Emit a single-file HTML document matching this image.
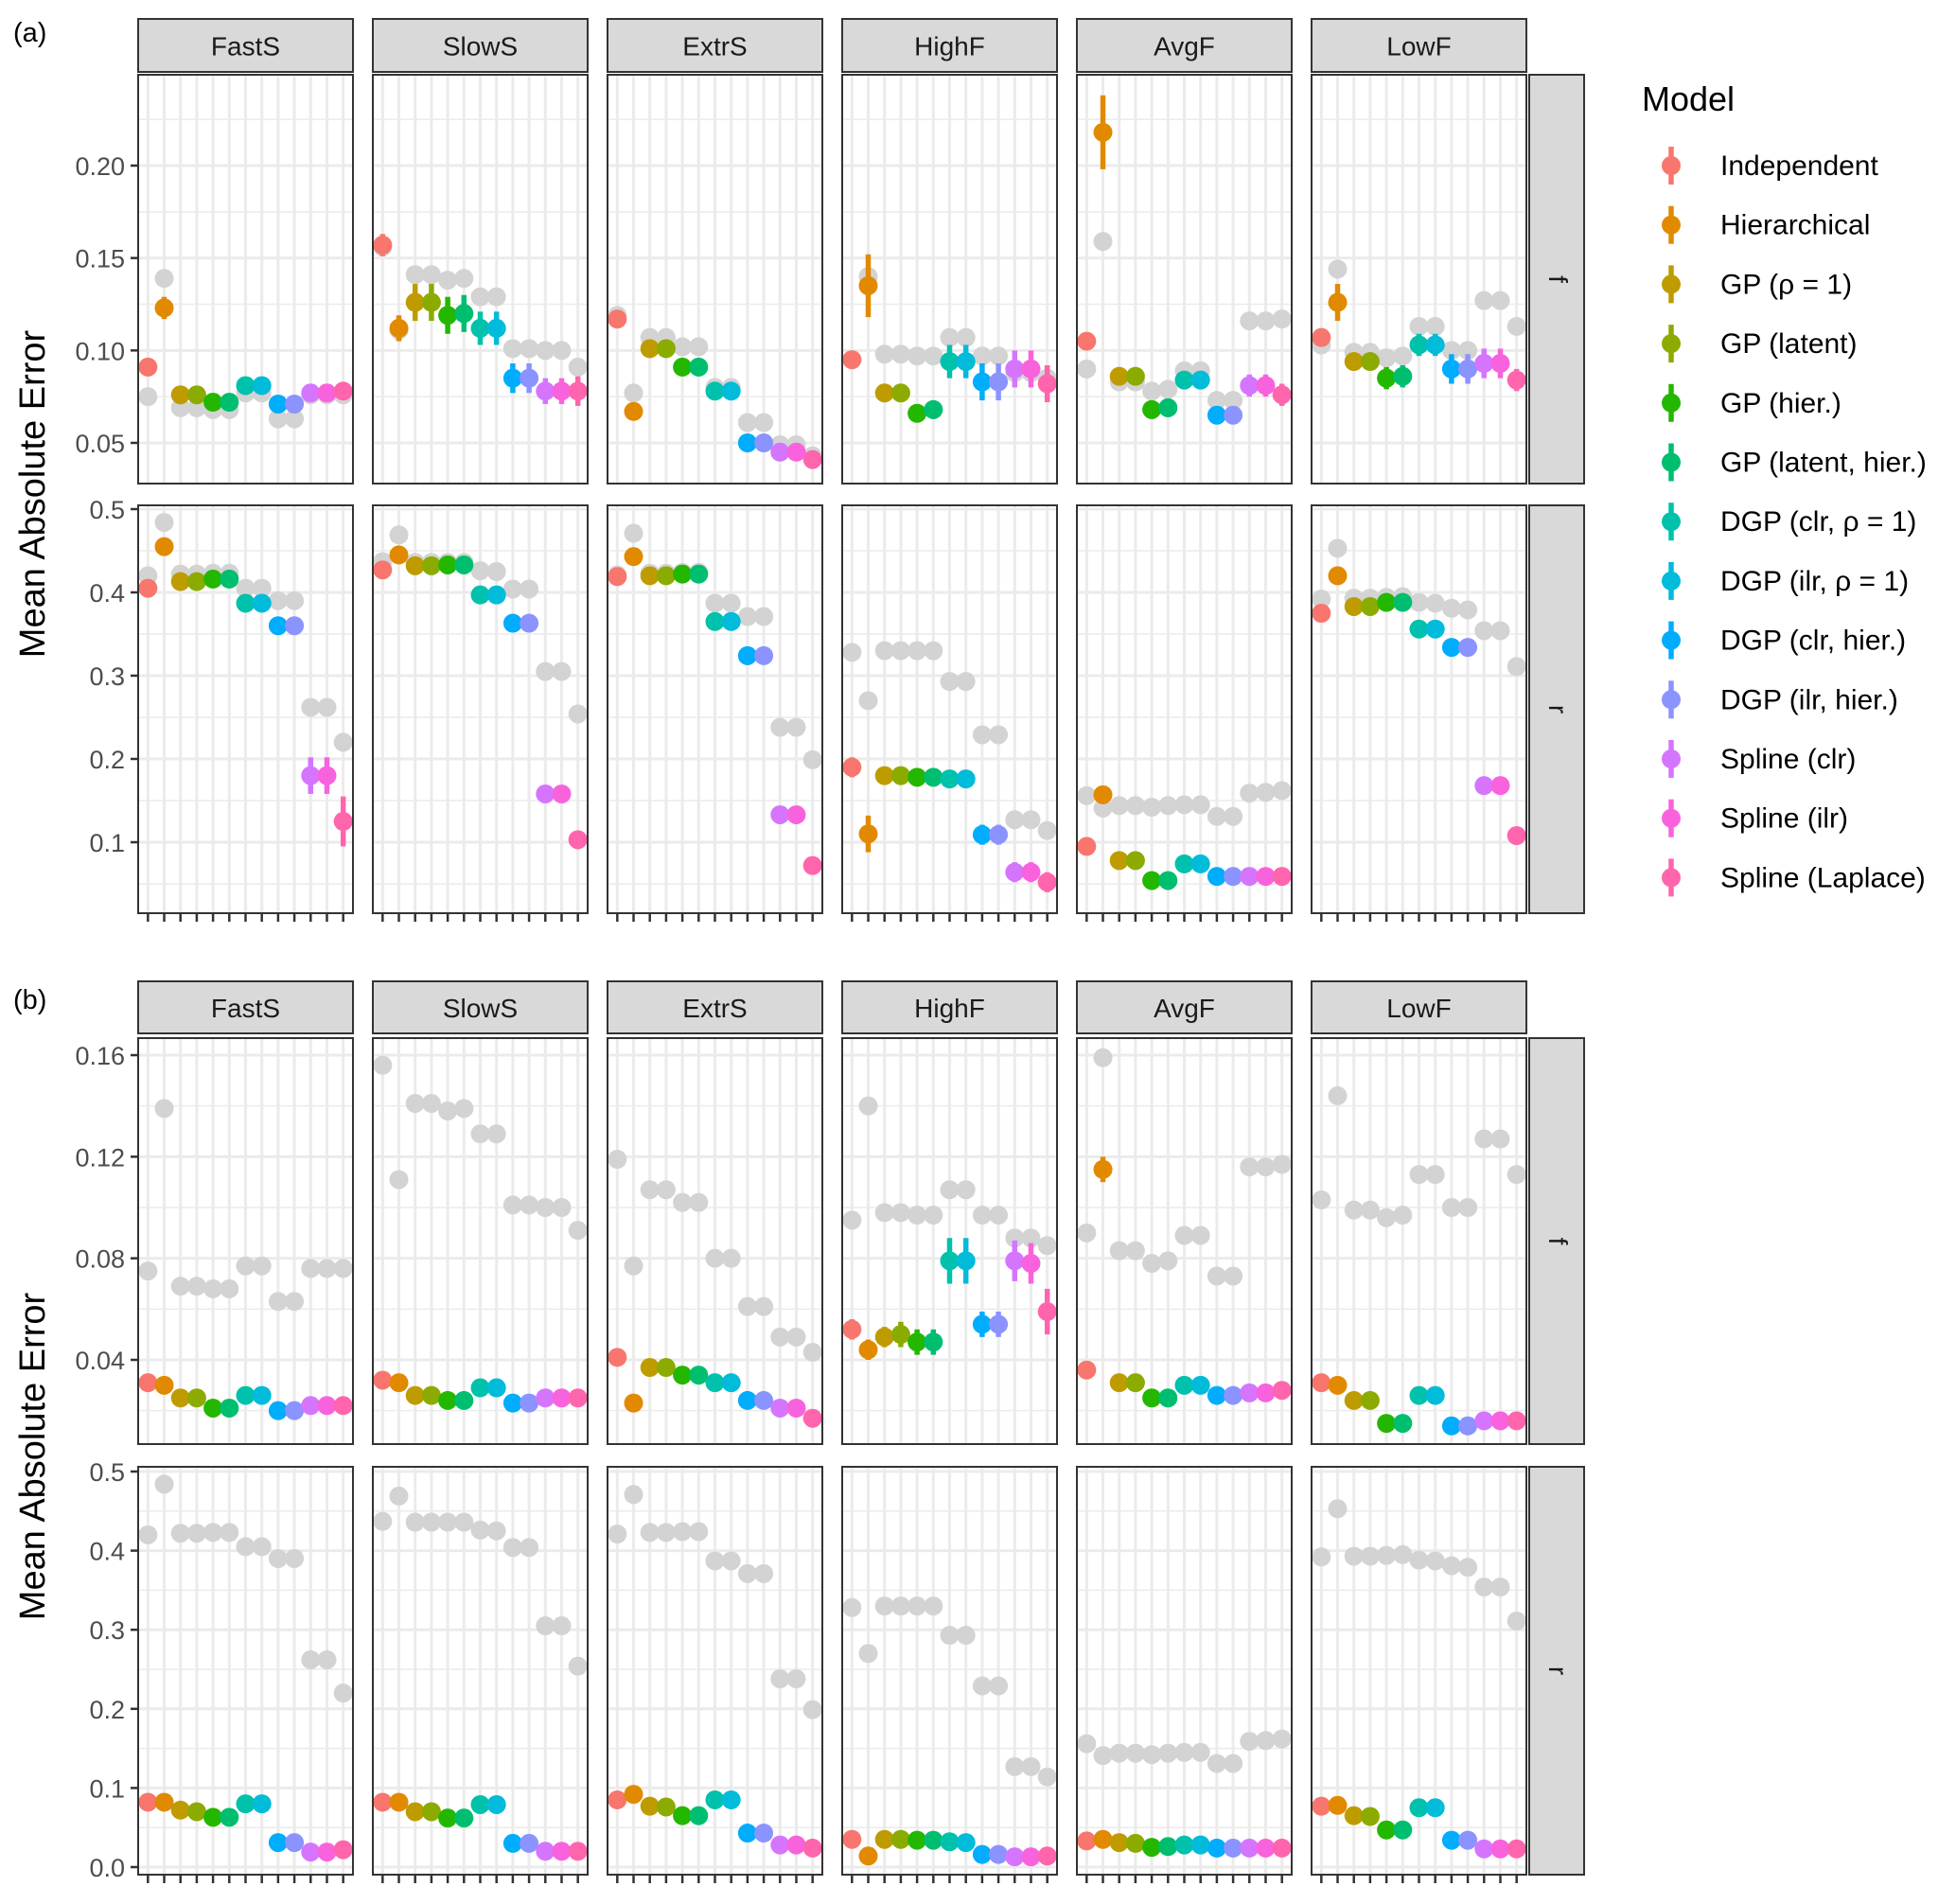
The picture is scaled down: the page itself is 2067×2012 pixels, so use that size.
<!DOCTYPE html>
<html><head><meta charset="utf-8">
<style>
html,body{margin:0;padding:0;background:#fff;}
svg{display:block;font-family:"Liberation Sans",Arial,sans-serif;}
</style></head>
<body>
<svg id="chart" width="2067" height="2012" viewBox="0 0 2067 2012" xmlns="http://www.w3.org/2000/svg">
<rect x="0" y="0" width="2067" height="2012" fill="#fff"/>
<g id="plot"></g>
<text x="14" y="44" font-size="29" fill="#000">(a)</text>
<text x="14" y="1066" font-size="29" fill="#000">(b)</text>
<text transform="translate(47,522) rotate(-90)" text-anchor="middle" font-size="38" fill="#000">Mean Absolute Error</text>
<text transform="translate(47,1539) rotate(-90)" text-anchor="middle" font-size="38" fill="#000">Mean Absolute Error</text>
<g id="legend"></g>
</svg>
<script>
const categories = ["FastS","SlowS","ExtrS","HighF","AvgF","LowF"];
const models = ["Independent","Hierarchical","GP (ρ = 1)","GP (latent)","GP (hier.)","GP (latent, hier.)","DGP (clr, ρ = 1)","DGP (ilr, ρ = 1)","DGP (clr, hier.)","DGP (ilr, hier.)","Spline (clr)","Spline (ilr)","Spline (Laplace)"];
const colors = ["#F8766D","#E18A00","#BE9C00","#8CAB00","#24B700","#00BE70","#00C1AB","#00BBDA","#00ACFC","#8B93FF","#D575FE","#F962DD","#FF65AC"];

const grayF = [
 [0.075,0.139,0.069,0.069,0.068,0.068,0.077,0.077,0.063,0.063,0.076,0.076,0.076],
 [0.156,0.111,0.141,0.141,0.138,0.139,0.129,0.129,0.101,0.101,0.100,0.100,0.091],
 [0.119,0.077,0.107,0.107,0.102,0.102,0.080,0.080,0.061,0.061,0.049,0.049,0.043],
 [0.095,0.140,0.098,0.098,0.097,0.097,0.107,0.107,0.097,0.097,0.088,0.088,0.085],
 [0.090,0.159,0.083,0.083,0.078,0.079,0.089,0.089,0.073,0.073,0.116,0.116,0.117],
 [0.103,0.144,0.099,0.099,0.096,0.097,0.113,0.113,0.100,0.100,0.127,0.127,0.113]
];
const grayR = [
 [0.420,0.484,0.422,0.422,0.423,0.423,0.405,0.405,0.390,0.390,0.262,0.262,0.220],
 [0.437,0.469,0.436,0.436,0.436,0.436,0.426,0.425,0.404,0.404,0.305,0.305,0.254],
 [0.421,0.471,0.423,0.423,0.424,0.424,0.387,0.387,0.371,0.371,0.238,0.238,0.199],
 [0.328,0.270,0.330,0.330,0.330,0.330,0.293,0.293,0.229,0.229,0.127,0.127,0.114],
 [0.156,0.141,0.144,0.144,0.142,0.144,0.145,0.145,0.131,0.131,0.159,0.160,0.162],
 [0.392,0.453,0.393,0.393,0.394,0.395,0.388,0.387,0.381,0.379,0.354,0.354,0.311]
];
const aF = [
 [0.091,0.123,0.076,0.076,0.072,0.072,0.081,0.081,0.071,0.071,0.077,0.077,0.078],
 [0.157,0.112,0.126,0.126,0.119,0.120,0.112,0.112,0.085,0.085,0.078,0.078,0.078],
 [0.117,0.067,0.101,0.101,0.091,0.091,0.078,0.078,0.050,0.050,0.045,0.045,0.041],
 [0.095,0.135,0.077,0.077,0.066,0.068,0.094,0.094,0.083,0.083,0.090,0.090,0.082],
 [0.105,0.218,0.086,0.086,0.068,0.069,0.084,0.084,0.065,0.065,0.081,0.081,0.076],
 [0.107,0.126,0.094,0.094,0.085,0.086,0.103,0.103,0.090,0.090,0.093,0.093,0.084]
];
const aFerr = [
 [0.003,0.006,0.003,0.003,0.003,0.003,0.003,0.003,0.003,0.003,0.003,0.003,0.004],
 [0.006,0.007,0.010,0.010,0.010,0.010,0.009,0.009,0.008,0.008,0.007,0.007,0.008],
 [0.002,0.003,0.002,0.002,0.002,0.002,0.002,0.002,0.002,0.002,0.002,0.002,0.002],
 [0.002,0.017,0.004,0.004,0.005,0.005,0.009,0.009,0.010,0.010,0.010,0.010,0.010],
 [0.002,0.020,0.003,0.003,0.005,0.005,0.004,0.004,0.004,0.004,0.006,0.006,0.006],
 [0.003,0.010,0.004,0.004,0.006,0.006,0.006,0.006,0.008,0.008,0.008,0.008,0.006]
];
const aR = [
 [0.405,0.455,0.413,0.413,0.416,0.416,0.387,0.387,0.360,0.360,0.180,0.180,0.125],
 [0.427,0.445,0.432,0.432,0.433,0.433,0.397,0.397,0.363,0.363,0.158,0.158,0.103],
 [0.419,0.443,0.420,0.420,0.422,0.422,0.365,0.365,0.324,0.324,0.133,0.133,0.072],
 [0.190,0.110,0.180,0.180,0.178,0.178,0.176,0.176,0.109,0.109,0.064,0.064,0.052],
 [0.095,0.157,0.078,0.078,0.054,0.054,0.074,0.074,0.059,0.059,0.059,0.059,0.059],
 [0.375,0.420,0.383,0.383,0.388,0.388,0.356,0.356,0.334,0.334,0.168,0.168,0.108]
];
const aRerr = [
 [0.005,0.008,0.005,0.005,0.005,0.005,0.005,0.005,0.005,0.005,0.022,0.022,0.030],
 [0.005,0.006,0.004,0.004,0.004,0.004,0.005,0.005,0.005,0.005,0.005,0.005,0.006],
 [0.004,0.006,0.004,0.004,0.004,0.004,0.005,0.005,0.005,0.005,0.005,0.005,0.010],
 [0.012,0.022,0.010,0.010,0.010,0.010,0.010,0.010,0.012,0.012,0.012,0.012,0.012],
 [0.005,0.006,0.004,0.004,0.004,0.004,0.004,0.004,0.004,0.004,0.004,0.004,0.004],
 [0.005,0.006,0.004,0.004,0.004,0.004,0.005,0.005,0.005,0.005,0.005,0.005,0.005]
];
const bF = [
 [0.031,0.030,0.025,0.025,0.021,0.021,0.026,0.026,0.020,0.020,0.022,0.022,0.022],
 [0.032,0.031,0.026,0.026,0.024,0.024,0.029,0.029,0.023,0.023,0.025,0.025,0.025],
 [0.041,0.023,0.037,0.037,0.034,0.034,0.031,0.031,0.024,0.024,0.021,0.021,0.017],
 [0.052,0.044,0.049,0.050,0.047,0.047,0.079,0.079,0.054,0.054,0.079,0.078,0.059],
 [0.036,0.115,0.031,0.031,0.025,0.025,0.030,0.030,0.026,0.026,0.027,0.027,0.028],
 [0.031,0.030,0.024,0.024,0.015,0.015,0.026,0.026,0.014,0.014,0.016,0.016,0.016]
];
const bFerr = [
 [0.001,0.001,0.001,0.001,0.001,0.001,0.001,0.001,0.001,0.001,0.001,0.001,0.001],
 [0.001,0.001,0.001,0.001,0.001,0.001,0.001,0.001,0.001,0.001,0.001,0.001,0.001],
 [0.001,0.001,0.001,0.001,0.001,0.001,0.001,0.001,0.001,0.001,0.001,0.001,0.001],
 [0.004,0.004,0.004,0.005,0.005,0.005,0.009,0.009,0.005,0.005,0.008,0.008,0.009],
 [0.001,0.005,0.001,0.001,0.001,0.001,0.001,0.001,0.001,0.001,0.001,0.001,0.001],
 [0.001,0.001,0.001,0.001,0.001,0.001,0.001,0.001,0.001,0.001,0.001,0.001,0.001]
];
const bR = [
 [0.082,0.082,0.072,0.070,0.063,0.063,0.080,0.080,0.031,0.031,0.019,0.019,0.022],
 [0.082,0.082,0.070,0.070,0.062,0.062,0.079,0.079,0.030,0.030,0.020,0.020,0.020],
 [0.085,0.092,0.077,0.076,0.065,0.065,0.085,0.085,0.043,0.043,0.028,0.028,0.024],
 [0.035,0.014,0.035,0.035,0.034,0.034,0.032,0.031,0.016,0.016,0.013,0.013,0.014],
 [0.033,0.035,0.031,0.030,0.025,0.026,0.028,0.028,0.024,0.024,0.024,0.024,0.024],
 [0.077,0.078,0.065,0.064,0.047,0.047,0.075,0.075,0.034,0.034,0.023,0.023,0.023]
];
const ticksAF = ["0.05","0.10","0.15","0.20"];
const ticksAR = ["0.1","0.2","0.3","0.4","0.5"];
const ticksBF = ["0.04","0.08","0.12","0.16"];
const ticksBR = ["0.0","0.1","0.2","0.3","0.4","0.5"];

const NS = "http://www.w3.org/2000/svg";
const plot = document.getElementById('plot');
function mk(tag, attrs, parent){ const e=document.createElementNS(NS,tag); for(const k in attrs) e.setAttribute(k,attrs[k]); (parent||plot).appendChild(e); return e; }

const panelX0 = 146, panelW = 227, panelStep = 248;
const PR = 10, EW = 5.5;
function xScale(p, i){ return panelX0 + p*panelStep + (i+0.6)*panelW/13.2; }
function makeY(v0,y0,v1,y1){ return v => y0 + (v - v0)*(y1-y0)/(v1-v0); }

const rows = [
 {name:"a-f", top:79, bot:511, y:makeY(0.05,468,0.20,175), ticks:ticksAF, minorStep:0.025, vals:aF, err:aFerr, gray:grayF, lab:"f"},
 {name:"a-r", top:534, bot:965, y:makeY(0.1,890,0.5,538), ticks:ticksAR, minorStep:0.05, vals:aR, err:aRerr, gray:grayR, lab:"r"},
 {name:"b-f", top:1097, bot:1526, y:makeY(0.04,1437,0.16,1115), ticks:ticksBF, minorStep:0.02, vals:bF, err:bFerr, gray:grayF, lab:"f"},
 {name:"b-r", top:1550, bot:1981, y:makeY(0.0,1973,0.5,1555), ticks:ticksBR, minorStep:0.05, vals:bR, err:null, gray:grayR, lab:"r"}
];
const strips = [{top:20,bot:79},{top:1037,bot:1095}];

strips.forEach((s,si)=>{
  categories.forEach((c,p)=>{
    const x=panelX0+p*panelStep;
    const r=mk('rect',{x:x,y:s.top,width:panelW,height:s.bot-s.top-3,fill:"#d9d9d9",stroke:"#333",'stroke-width':2});
    
    
    const t=mk('text',{x:x+panelW/2,y:(s.top+s.bot)/2+9,'text-anchor':'middle','font-size':28,fill:"#1a1a1a"});
    t.textContent=c;
    
    
  });
});

rows.forEach((row,ri)=>{
  const a0=row.y(0), a1=row.y(1);
  const vTop=(row.top-a0)/(a1-a0), vBot=(row.bot-a0)/(a1-a0);
  const rs=mk('rect',{x:1616,y:row.top,width:58,height:row.bot-row.top,fill:"#d9d9d9",stroke:"#333",'stroke-width':2});
  
  
  const rt=mk('text',{transform:`translate(1637,${(row.top+row.bot)/2}) rotate(90)`,'text-anchor':'middle','font-size':28,fill:"#1a1a1a"});
  rt.textContent=row.lab;
  
  
  row.ticks.forEach(t=>{
    const yy=row.y(parseFloat(t));
    const tl=mk('line',{x1:138,x2:146,y1:yy,y2:yy,stroke:"#333",'stroke-width':2.5});
    
    
    const tx=mk('text',{x:132,y:yy+10,'text-anchor':'end','font-size':27,fill:"#4d4d4d"});
    tx.textContent=t;
    
    
  });
  categories.forEach((c,p)=>{
    const x=panelX0+p*panelStep;
    const g=mk('g',{});
    
    
    mk('rect',{x:x,y:row.top,width:panelW,height:row.bot-row.top,fill:"#fff"},g);
    const lo2=Math.min(vTop,vBot), hi2=Math.max(vTop,vBot);
    for(let v=Math.ceil(lo2/row.minorStep)*row.minorStep; v<=hi2; v+=row.minorStep){
      const yy=row.y(v); if(yy<row.top+1||yy>row.bot-1) continue;
      const isMajor=row.ticks.some(t=>Math.abs(parseFloat(t)-v)<1e-6);
      mk('line',{x1:x,x2:x+panelW,y1:yy,y2:yy,stroke:"#ebebeb",'stroke-width':isMajor?3:1.5},g);
    }
    for(let i=0;i<13;i++){
      const xx=xScale(p,i);
      mk('line',{x1:xx,x2:xx,y1:row.top,y2:row.bot,stroke:"#ebebeb",'stroke-width':3},g);
    }
    row.gray[p].forEach((v,i)=>{
      const c0=mk('circle',{cx:xScale(p,i),cy:row.y(v),r:PR,fill:"#d3d3d3"},g);
      
      
    });
    row.vals[p].forEach((v,i)=>{
      const xx=xScale(p,i);
      const e=row.err?row.err[p][i]:0.001;
      const ln=mk('line',{x1:xx,x2:xx,y1:row.y(v-e),y2:row.y(v+e),stroke:colors[i],'stroke-width':EW},g);
      
      
      const pt=mk('circle',{cx:xx,cy:row.y(v),r:PR,fill:colors[i]},g);
      
      
    });
    mk('rect',{x:x,y:row.top,width:panelW,height:row.bot-row.top,fill:"none",stroke:"#333",'stroke-width':2},g);
    if(ri===1||ri===3){
      for(let i=0;i<13;i++){
        const xx=xScale(p,i);
        mk('line',{x1:xx,x2:xx,y1:row.bot+1,y2:row.bot+9,stroke:"#333",'stroke-width':2.5},g);
      }
    }
  });
});

const lg=document.getElementById('legend');
const lt=mk('text',{x:1735,y:117,'font-size':36,fill:"#000"},lg);
lt.textContent="Model";


models.forEach((m,i)=>{
  const yy=175+i*62.7;
  const g=mk('g',{},lg);
  
  
  mk('line',{x1:1766,x2:1766,y1:yy-20,y2:yy+20,stroke:colors[i],'stroke-width':EW},g);
  mk('circle',{cx:1766,cy:yy,r:PR,fill:colors[i]},g);
  const t=mk('text',{x:1818,y:yy+10,'font-size':30,fill:"#000"},g);
  t.textContent=m;
});
</script>
</body></html>
